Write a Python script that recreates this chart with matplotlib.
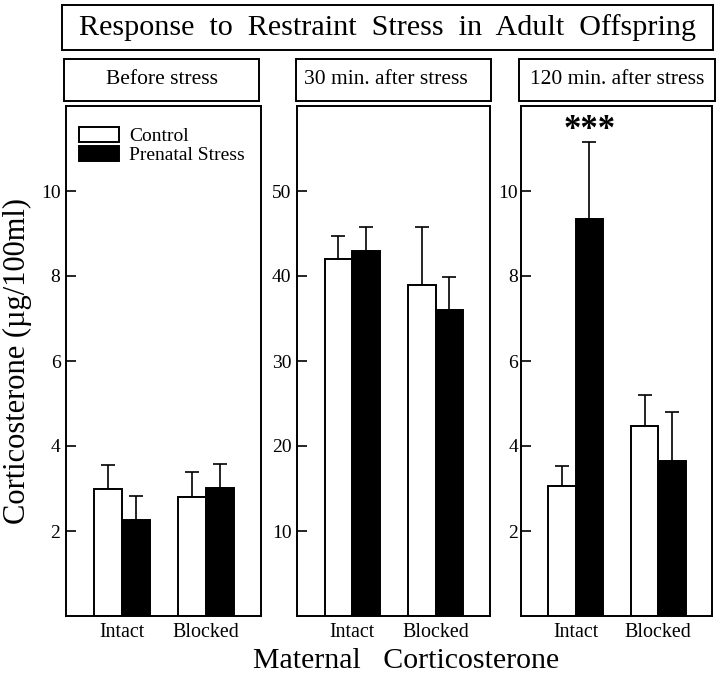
import matplotlib
matplotlib.use("Agg")
import matplotlib.pyplot as plt
from matplotlib.patches import Rectangle
import numpy as np

plt.rcParams['font.family'] = ['Liberation Serif', 'DejaVu Serif']

groups = ["Intact", "Blocked"]
panel_titles = ["Before stress", "30 min. after stress", "120 min. after stress"]
control_means = [[3.0, 2.8], [42.0, 39.0], [3.07, 4.48]]
control_sem = [[0.55, 0.58], [2.7, 6.8], [0.45, 0.73]]
prenatal_means = [[2.27, 3.02], [43.0, 36.0], [9.34, 3.65]]
prenatal_sem = [[0.56, 0.56], [2.8, 3.9], [1.81, 1.14]]
y_max = [12, 60, 12]
y_ticks = [[2, 4, 6, 8, 10], [10, 20, 30, 40, 50], [2, 4, 6, 8, 10]]

W, H = 720, 677
fig = plt.figure(figsize=(W / 100, H / 100), dpi=100)


def fbox(x0, y0, x1, y1):
    # pixel box (top-left origin) -> figure fraction
    return [x0 / W, 1 - y1 / H, (x1 - x0) / W, (y1 - y0) / H]


def framed_text(x0, y0, x1, y1, text, size, tx=None):
    l, b, w, h = fbox(x0, y0, x1, y1)
    fig.add_artist(Rectangle((l, b), w, h, transform=fig.transFigure,
                             fill=False, lw=1.4, ec='black'))
    cx = (tx if tx is not None else (x0 + x1) / 2) / W
    fig.text(cx, b + h / 2, text, ha='center', va='center', fontsize=size)


framed_text(62, 5, 713, 50, "Response  to  Restraint  Stress  in  Adult  Offspring", 21.7)

axes_px = [(66, 261), (297, 490), (521, 712)]
sub_px = [(64, 259), (296, 491), (519, 715)]
sub_tx = [None, 386, None]

x = np.arange(len(groups))
w = 0.33
for i in range(3):
    framed_text(sub_px[i][0], 59, sub_px[i][1], 101, panel_titles[i], 15.5, sub_tx[i])
    ax = fig.add_axes(fbox(axes_px[i][0], 106, axes_px[i][1], 616))
    ax.bar(x - w / 2, control_means[i], w, color='white', edgecolor='black', lw=1.4,
           label='Control', zorder=2)
    ax.bar(x + w / 2, prenatal_means[i], w, color='black', edgecolor='black', lw=1.4,
           label='Prenatal Stress', zorder=2)
    ax.errorbar(x - w / 2, control_means[i], yerr=[np.zeros(2), control_sem[i]],
                fmt='none', ecolor='black', elinewidth=1.2, capsize=5, capthick=1.2, zorder=1)
    ax.errorbar(x + w / 2, prenatal_means[i], yerr=[np.zeros(2), prenatal_sem[i]],
                fmt='none', ecolor='black', elinewidth=1.2, capsize=5, capthick=1.2, zorder=1)
    ax.set_xlim(-0.66, 1.65)
    ax.set_ylim(0, y_max[i])
    ax.set_yticks(y_ticks[i])
    ax.tick_params(axis='y', direction='in', length=7, width=1.2, labelsize=14,
                   pad=4 if i < 2 else 2)
    ax.set_xticks(x)
    ax.set_xticklabels(groups)
    ax.tick_params(axis='x', length=0, labelsize=14.4, pad=5)
    for s in ax.spines.values():
        s.set_linewidth(1.4)
    if i == 0:
        ax.legend(loc='upper left', bbox_to_anchor=(-0.015, 0.99), frameon=False,
                  fontsize=14, handlelength=2.1, handleheight=0.8, labelspacing=0.05,
                  borderaxespad=0.4, handletextpad=0.5)
    if i == 2:
        ax.text(x[0] + w / 2, 11.42, "***",
                ha='center', va='center', fontsize=25, fontweight='bold')

fig.text(0.024, (677 - 361) / H, "Corticosterone (\u00b5g/100ml)", rotation=90,
         ha='center', va='center', fontsize=22)
fig.text(406 / W, 1 - 661 / H, "Maternal   Corticosterone", ha='center', va='center',
         fontsize=21.5)

fig.savefig("out.png", dpi=100)
